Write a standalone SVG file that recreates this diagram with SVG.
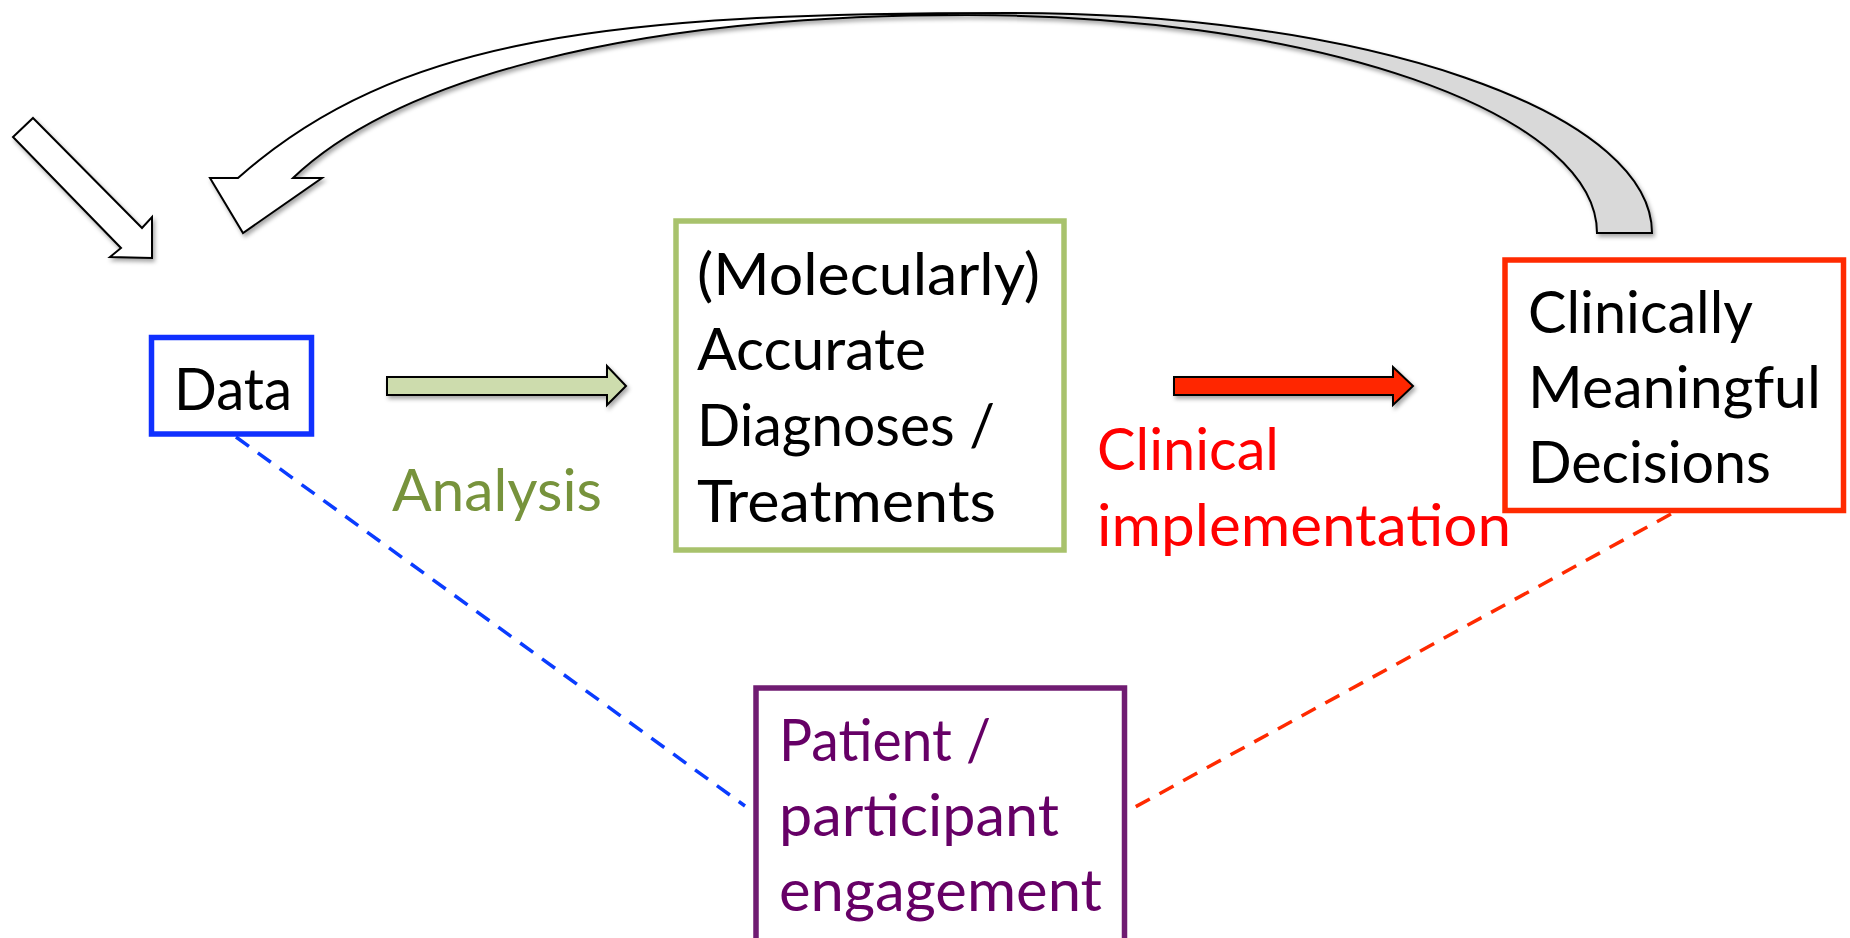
<svg xmlns="http://www.w3.org/2000/svg" width="1850" height="938" viewBox="0 0 1850 938">
  <style>
    .t { font-family: Lato, "Open Sans", "Liberation Sans", sans-serif; font-size: 58px; }
    .box { fill: #ffffff; stroke-width: 5.5; }
    .blk { stroke: #000000; stroke-width: 2; stroke-linejoin: miter; }
    .dash { fill: none; stroke-width: 3.5; stroke-dasharray: 16 11; }
  </style>
  <defs>
    <filter id="sh" x="-10%" y="-10%" width="130%" height="140%">
      <feDropShadow dx="2" dy="3" stdDeviation="2" flood-color="#000" flood-opacity="0.35"/>
    </filter>
    <linearGradient id="curveFill" gradientUnits="userSpaceOnUse" x1="0" y1="0" x2="1850" y2="0">
      <stop offset="0.54" stop-color="#ffffff"/>
      <stop offset="0.545" stop-color="#d9d9d9"/>
      <stop offset="1" stop-color="#d9d9d9"/>
    </linearGradient>
  </defs>
  <rect width="1850" height="938" fill="#ffffff"/>

  <g id="connectors">
    <g id="input-arrow" filter="url(#sh)">
      <polygon class="blk" fill="#ffffff" points="33,118 142,228 152,217 152,258 110,257 121,248 13,137"/>
    </g>
    <g id="feedback-arrow" filter="url(#sh)">
      <path class="blk" fill="url(#curveFill)" d="M 238 178 C 398 36 612 13 1012 13 A 640 220 0 0 1 1652 233 L 1597 233 A 630 218 0 0 0 967 15 C 617 15 393 83 293 178 L 322 178 L 243 233 L 210 178 Z"/>
    </g>
    <g id="analysis-arrow">
      <polygon class="blk" fill="#cddcad" filter="url(#sh)" points="387,377 607,377 607,366 626,386 607,405 607,395 387,395"/>
      <text class="t" x="392" y="511" fill="#77933c" textLength="210" lengthAdjust="spacingAndGlyphs">Analysis</text>
    </g>
    <g id="implementation-arrow">
      <polygon class="blk" fill="#ff2800" filter="url(#sh)" points="1174,377 1393,377 1393,367 1413,386 1393,405 1393,395 1174,395"/>
      <text class="t" x="1097" y="470" fill="#ff0000" textLength="182" lengthAdjust="spacingAndGlyphs">Clinical</text>
      <text class="t" x="1097" y="546" fill="#ff0000" textLength="414" lengthAdjust="spacingAndGlyphs">implementation</text>
    </g>
    <line class="dash" stroke="#0a3cff" x1="236" y1="437" x2="745" y2="806"/>
    <line class="dash" stroke="#ff2a00" x1="1671" y1="514" x2="1126" y2="812"/>
  </g>

  <g id="node-data">
    <rect class="box" stroke="#1030ff" x="151.5" y="337.5" width="160" height="96.5"/>
    <text class="t" x="174" y="410" fill="#000000" textLength="118" lengthAdjust="spacingAndGlyphs">Data</text>
  </g>

  <g id="node-diagnoses">
    <rect class="box" stroke="#a8c26c" x="676" y="221" width="388" height="329"/>
    <text class="t" fill="#000000" x="697" y="295" textLength="343" lengthAdjust="spacingAndGlyphs">(Molecularly)</text>
    <text class="t" fill="#000000" x="697" y="370" textLength="229" lengthAdjust="spacingAndGlyphs">Accurate</text>
    <text class="t" fill="#000000" x="697" y="446" textLength="298" lengthAdjust="spacingAndGlyphs">Diagnoses /</text>
    <text class="t" fill="#000000" x="697" y="522" textLength="299" lengthAdjust="spacingAndGlyphs">Treatments</text>
  </g>

  <g id="node-decisions">
    <rect class="box" stroke="#ff2a00" x="1505" y="260" width="338.5" height="250.5"/>
    <text class="t" fill="#000000" x="1528" y="333" textLength="225" lengthAdjust="spacingAndGlyphs">Clinically</text>
    <text class="t" fill="#000000" x="1528" y="408" textLength="293" lengthAdjust="spacingAndGlyphs">Meaningful</text>
    <text class="t" fill="#000000" x="1528" y="483" textLength="243" lengthAdjust="spacingAndGlyphs">Decisions</text>
  </g>

  <g id="node-engagement">
    <rect class="box" stroke="#701c72" x="756" y="688" width="368.5" height="270"/>
    <text class="t" fill="#660066" x="779" y="761" textLength="212" lengthAdjust="spacingAndGlyphs">Patient /</text>
    <text class="t" fill="#660066" x="779" y="836" textLength="280" lengthAdjust="spacingAndGlyphs">participant</text>
    <text class="t" fill="#660066" x="779" y="911" textLength="323" lengthAdjust="spacingAndGlyphs">engagement</text>
  </g>
</svg>
